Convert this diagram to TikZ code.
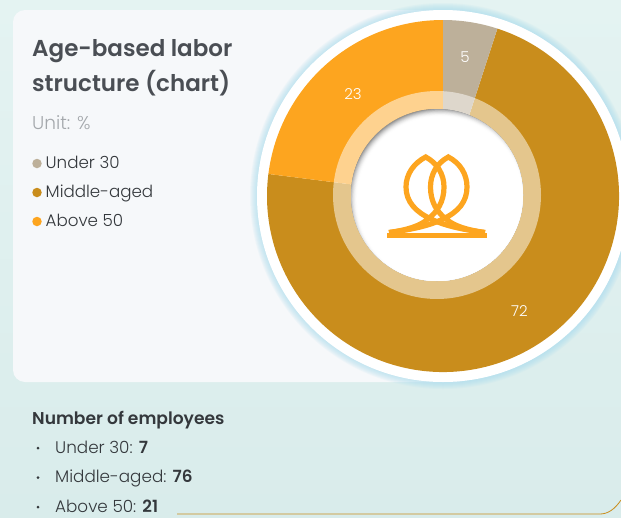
\documentclass[tikz,border=0pt]{standalone}
\usepackage{fontspec}
\setmainfont{Poppins}
\newfontfamily\lightf{Poppins Light}
\newfontfamily\semif{Poppins SemiBold}
\definecolor{bgtop}{HTML}{E4F3F2}
\definecolor{bgbot}{HTML}{D9ECEB}
\definecolor{card}{HTML}{F6F8FA}
\definecolor{glow}{HTML}{A6DCEE}
\definecolor{tan}{HTML}{BDB09A}
\definecolor{brown}{HTML}{C98D1C}
\definecolor{amber}{HTML}{FDA51F}
\definecolor{ink}{HTML}{34383C}
\definecolor{title}{HTML}{4A4E54}
\definecolor{unit}{HTML}{A4A8AC}
\definecolor{holeshade}{HTML}{969696}
\tikzset{
  titletext/.style={anchor=base west,inner sep=0pt,text=title,font=\semif\fontsize{23}{23}\selectfont},
  unittext/.style={anchor=base west,inner sep=0pt,text=unit,font=\lightf\fontsize{18.5}{18.5}\selectfont},
  legendtext/.style={anchor=base west,inner sep=0pt,text=ink,font=\lightf\fontsize{16.7}{16.7}\selectfont},
  headtext/.style={anchor=base west,inner sep=0pt,text=ink,font=\semif\fontsize{17.1}{17.1}\selectfont},
  itemtext/.style={anchor=base west,inner sep=0pt,text=ink,font=\lightf\fontsize{16.8}{16.8}\selectfont},
  valtext/.style={anchor=center,inner sep=0pt,text=white,font=\lightf\fontsize{15}{15}\selectfont},
  bulletdot/.style={circle,fill=ink,inner sep=0pt,minimum size=3pt},
  legenddot/.style={circle,inner sep=0pt,minimum size=9.5pt},
  logo/.style={draw=amber,line width=5.2pt,line join=miter,miter limit=6}
}
\newcommand{\B}[1]{{\semif #1}}
\begin{document}
\begin{tikzpicture}[x=1pt,y=1pt]
\useasboundingbox (0,0) rectangle (621,-517);
\clip (0,0) rectangle (621,-517);
\shade[top color=bgtop,bottom color=bgbot] (0,0) rectangle (621,-517);
\fill[card,rounded corners=12pt] (13,-10) rectangle (470,-382);
% glow
\foreach \i in {0,...,7}{
  \pgfmathsetmacro{\rr}{193-\i}
  \fill[glow,opacity=.11] (443,-196) circle (\rr);
}
\fill[white] (443,-196) circle (186);
% wedges
\fill[brown] (443,-196) -- ++(72:176) arc[start angle=72,end angle=-187.2,radius=176] -- cycle;
\fill[amber] (443,-196) -- ++(172.8:176) arc[start angle=172.8,end angle=90,radius=176] -- cycle;
\fill[tan] (443,-196) -- ++(90:176) arc[start angle=90,end angle=72,radius=176] -- cycle;
% translucent ring
\fill[white,opacity=.5,even odd rule] (437,-195) circle (104) (437,-195) circle (86);
% hole with inner shadow
\begin{scope}
  \clip (437,-195) circle (86);
  \fill[holeshade] (437,-195) circle (87);
  \foreach \i in {0,...,10}{
    \pgfmathsetmacro{\rr}{91-\i*0.8}
    \pgfmathsetmacro{\mx}{100-(10-\i)*(10-\i)}
    \fill[white!\mx!holeshade] (440,-199.5) circle (\rr);
  }
\end{scope}
% logo
\draw[logo] (485,-232.5) .. controls (465,-230) and (445,-226) .. (431,-219) .. controls (416,-212) and (406,-202) .. (406,-187) .. controls (406,-174) and (414,-163) .. (425.7,-157) .. controls (437,-163) and (444,-174) .. (444,-187) .. controls (444,-202) and (437,-212) .. (428,-219) .. controls (420,-226) and (407,-230) .. (389,-232.5);
\draw[logo] (389,-232.5) .. controls (409,-230) and (429,-226) .. (443,-219) .. controls (458,-212) and (467,-202) .. (467,-187) .. controls (467,-174) and (460,-163) .. (448.3,-157) .. controls (437,-163) and (430.5,-174) .. (430.5,-187) .. controls (430.5,-202) and (437,-212) .. (446,-219) .. controls (454,-226) and (467,-230) .. (485,-232.5);
\draw[logo] (387.3,-235.5) -- (486.7,-235.5);
% values
\node[valtext] (v5) at (465,-57.5) {5};
\node[valtext] (v23) at (353,-94) {23};
\node[valtext] (v72) at (519.5,-311.5) {72};
% title
\node[titletext] (t1) at (32,-56) {Age-based labor};
\node[titletext] (t2) at (32,-91) {structure (chart)};
\node[unittext] (u) at (32,-129) {Unit: \%};
\node[legenddot,fill=tan] (d1) at (37,-163.5) {};
\node[legenddot,fill=brown] (d2) at (37,-192.5) {};
\node[legenddot,fill=amber] (d3) at (37,-221.5) {};
\node[legendtext] (l1) at (45.5,-168) {Under 30};
\node[legendtext] (l2) at (45.5,-197) {Middle-aged};
\node[legendtext] (l3) at (45.5,-226.5) {Above 50};
% bottom
\node[headtext] (h) at (32,-424) {Number of employees};
\node[bulletdot] (b1) at (38,-448) {};
\node[bulletdot] (b2) at (38,-477.5) {};
\node[bulletdot] (b3) at (38,-507) {};
\node[itemtext] (i1) at (55,-453) {Under 30: \B{7}};
\node[itemtext] (i2) at (55,-482.5) {Middle-aged: \B{76}};
\node[itemtext] (i3) at (55,-512) {Above 50: \B{21}};
% frame line
\coordinate (ls) at (177,-514);
\coordinate (le) at (621,-500);
\draw[brown,line width=.8pt] (ls) -- (600,-514) .. controls (608,-514) and (615,-509) .. (le);
\end{tikzpicture}
\end{document}
